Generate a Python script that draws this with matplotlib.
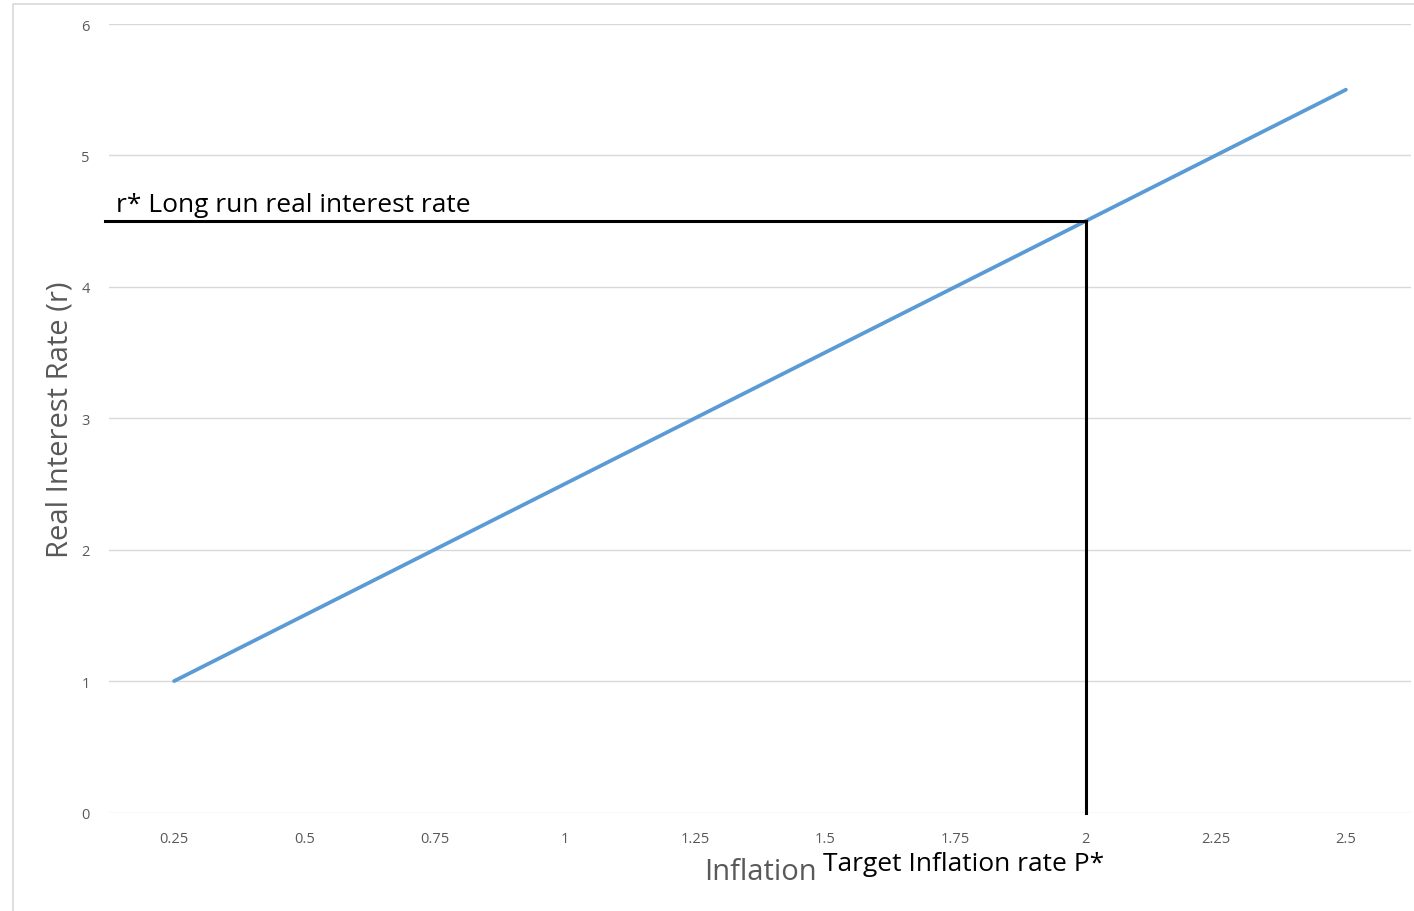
import matplotlib
matplotlib.use("Agg")
import matplotlib.pyplot as plt
from matplotlib.patches import Rectangle

categories = ["0.25", "0.5", "0.75", "1", "1.25", "1.5", "1.75", "2", "2.25", "2.5"]
rates = [1, 1.5, 2, 2.5, 3, 3.5, 4, 4.5, 5, 5.5]
y_ticks = [0, 1, 2, 3, 4, 5, 6]
r_star = 4.5
target_cat = "2"

plt.rcParams['font.family'] = ['Open Sans', 'DejaVu Sans']

fig = plt.figure(figsize=(14.14, 9.12), dpi=100)
fig.patches.append(Rectangle((13/1414, -0.01), 1.1, (912-5)/912 + 0.01, transform=fig.transFigure,
                             fill=False, edgecolor='#D9D9D9', linewidth=1.2))
ax = fig.add_axes([109/1414, 1-813.5/912, (1411-109)/1414, (813.5-25)/912])

x = list(range(len(categories)))
ax.plot(x, rates, color='#5B9BD5', linewidth=2.7, solid_capstyle='round', zorder=3)

ax.set_xlim(-0.5, len(categories) - 0.5)
ax.set_ylim(0, 6)
ax.set_yticks(y_ticks)
ax.set_xticks(x)
ax.set_xticklabels(categories)
ax.tick_params(axis='both', length=0, labelsize=10.5, labelcolor='#595959')
ax.tick_params(axis='x', pad=13)
ax.tick_params(axis='y', pad=14)
for s in ax.spines.values():
    s.set_visible(False)
ax.grid(axis='y', color='#D9D9D9', linewidth=1)
ax.set_axisbelow(True)

xi = categories.index(target_cat)
ax.plot([-0.53, xi], [r_star, r_star], color='black', linewidth=2.2, clip_on=False, zorder=4)
ax.plot([xi, xi], [0, r_star], color='black', linewidth=2.2, clip_on=False, zorder=4)

fig.text(60/1414, 1-420/912, "Real Interest Rate (r)", fontsize=21, color='#595959',
         rotation=90, ha='center', va='center')
fig.text(760/1414, 1-873/912, "Inflation", fontsize=21, color='#595959', ha='center', va='center')
fig.text(823/1414, 1-865/912, "Target Inflation rate P*", fontsize=19, color='black', ha='left', va='center')
fig.text(116/1414, 1-206/912, "r* Long run real interest rate", fontsize=19, color='black', ha='left', va='center')

fig.savefig("out.png", dpi=100)
